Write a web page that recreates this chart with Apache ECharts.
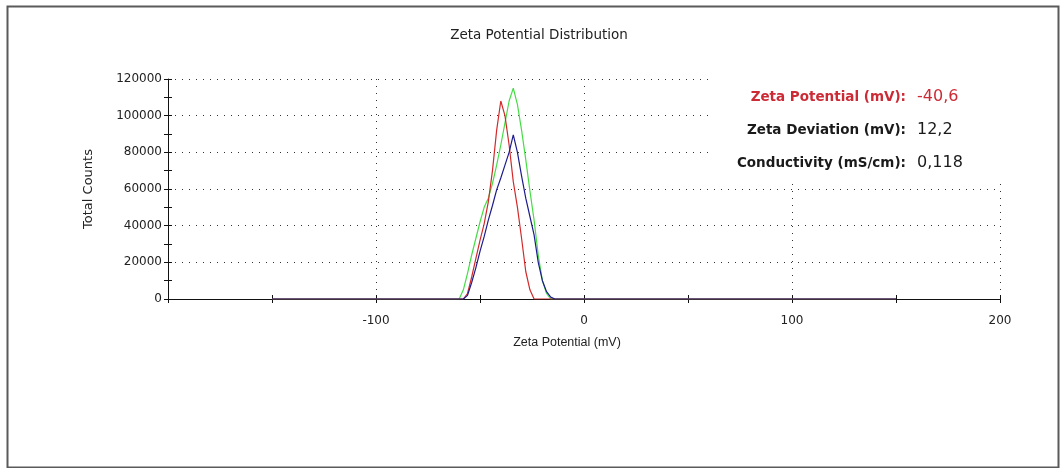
<!DOCTYPE html>
<html>
<head>
<meta charset="utf-8">
<script src="https://cdn.jsdelivr.net/npm/echarts@6/dist/echarts.min.js"></script>
<style>
  html, body { margin: 0; padding: 0; background: #fff; }
  #chart { width: 1063px; height: 468px; }
</style>
</head>
<body>
<div id="chart"></div>
<script>
// Zeta potential axis (mV) shared by all three runs
const zetaMv = [-150, -62, -60, -58, -56, -54, -52, -50, -48, -46, -44, -42, -40, -38,
                -36, -34, -32, -30, -28, -26, -24, -22, -20, -18, -16, -14, -12, 150];

// Total counts per run
const run1Counts = [0, 0, 0, 5000, 14000, 24000, 33000, 42000, 50000, 55000, 63000, 73000, 84000, 96000,
                    108000, 115000, 106000, 92000, 76000, 59000, 43000, 24000, 10000, 3000, 0, 0, 0, 0];
const run2Counts = [0, 0, 0, 0, 3000, 12000, 22000, 32000, 41000, 53000, 70000, 92000, 108000, 100000,
                    84000, 64000, 50000, 33000, 15000, 5000, 0, 0, 0, 0, 0, 0, 0, 0];
const run3Counts = [0, 0, 0, 0, 2000, 9000, 17000, 26000, 34000, 43000, 51000, 59500, 66000, 73000,
                    80000, 89500, 80000, 67000, 55000, 45000, 35000, 20000, 10000, 4000, 1000, 0, 0, 0];

const runColors = ['#47dc47', '#d22a2a', '#1c1c8c'];

// Result summary shown in the upper right
const summaryLabels = ['Zeta Potential (mV):', 'Zeta Deviation (mV):', 'Conductivity (mS/cm):'];
const summaryValues = ['-40,6', '12,2', '0,118'];

const xTicks = { min: -200, max: 200, interval: 100 };
const yTicks = { min: 0, max: 120000, interval: 20000 };

const SANS = '"DejaVu Sans", "Liberation Sans", Arial, sans-serif';
const ARIAL = '"Liberation Sans", Arial, sans-serif';

function pairs(ys) { return zetaMv.map((x, i) => [x, ys[i]]); }

const chart = echarts.init(document.getElementById('chart'), null, { renderer: 'canvas' });

const dotted = { color: '#333', width: 1, type: [1, 6] };
const tickStyle = { color: '#111', width: 1 };

const graphics = [];
// White panel behind the result summary
graphics.push({
  type: 'rect', left: 710, top: 70, z: 50,
  shape: { width: 300, height: 112 },
  style: { fill: '#fff' }
});
summaryLabels.forEach((t, i) => {
  const color = i === 0 ? '#cc2b36' : '#1a1a1a';
  graphics.push({
    type: 'text', z: 51, x: 906, y: 97 + i * 33,
    style: { text: t, font: 'bold 13.5px ' + SANS, fill: color, align: 'right', verticalAlign: 'middle' }
  });
  graphics.push({
    type: 'text', z: 51, x: 917, y: 97 + i * 33,
    style: { text: summaryValues[i], font: '16px ' + SANS, fill: color, align: 'left', verticalAlign: 'middle' }
  });
});
// Outer frame
graphics.push({
  type: 'rect', left: 5, top: 4, z: 0, silent: true,
  shape: { width: 1051, height: 461 },
  style: { fill: 'none', stroke: '#5a5a5a', lineWidth: 2 }
});

const option = {
  animation: false,
  backgroundColor: '#fff',
  title: {
    text: 'Zeta Potential Distribution',
    left: 534, top: 23, textAlign: 'center',
    textStyle: { fontFamily: SANS, fontSize: 13.5, fontWeight: 'normal', color: '#222' }
  },
  grid: { left: 168, right: 63, top: 79, bottom: 169, containLabel: false },
  xAxis: [
    {
      type: 'value', position: 'bottom', min: xTicks.min, max: xTicks.max, interval: xTicks.interval,
      name: 'Zeta Potential (mV)', nameLocation: 'middle', nameGap: 37,
      nameTextStyle: { fontFamily: ARIAL, fontSize: 12.5, color: '#222', padding: [0, 34, 0, 0] },
      axisLine: { onZero: false, lineStyle: { color: '#111', width: 1 } },
      axisTick: { show: true, length: 4, lineStyle: tickStyle },
      minorTick: { show: true, splitNumber: 2, length: 4, lineStyle: tickStyle },
      axisLabel: {
        margin: 16, fontFamily: SANS, fontSize: 12, color: '#222',
        formatter: v => (v === xTicks.min ? '' : String(v))
      },
      splitLine: { show: true, lineStyle: dotted }
    },
    {
      type: 'value', position: 'bottom', min: xTicks.min, max: xTicks.max, interval: xTicks.interval,
      axisLine: { show: false, onZero: false },
      axisTick: { show: true, inside: true, length: 4, lineStyle: tickStyle },
      minorTick: { show: true, splitNumber: 2, length: 4, lineStyle: tickStyle },
      axisLabel: { show: false }, splitLine: { show: false }
    }
  ],
  yAxis: [
    {
      type: 'value', position: 'left', min: yTicks.min, max: yTicks.max, interval: yTicks.interval,
      name: 'Total Counts', nameLocation: 'middle', nameGap: 73, nameRotate: 90,
      nameTextStyle: { fontFamily: SANS, fontSize: 13, color: '#222' },
      axisLine: { onZero: false, lineStyle: { color: '#111', width: 1 } },
      axisTick: { show: true, length: 4, lineStyle: tickStyle },
      minorTick: { show: true, splitNumber: 2, length: 4, lineStyle: tickStyle },
      axisLabel: { margin: 6, fontFamily: SANS, fontSize: 12, color: '#222', formatter: v => String(v) },
      splitLine: { show: true, lineStyle: dotted }
    },
    {
      type: 'value', position: 'left', min: yTicks.min, max: yTicks.max, interval: yTicks.interval,
      axisLine: { show: false, onZero: false },
      axisTick: { show: true, inside: true, length: 4, lineStyle: tickStyle },
      minorTick: { show: true, splitNumber: 2, length: 4, lineStyle: tickStyle },
      axisLabel: { show: false }, splitLine: { show: false }
    }
  ],
  series: [run1Counts, run2Counts, run3Counts].map((ys, i) => ({
    type: 'line', xAxisIndex: 0, yAxisIndex: 0,
    data: pairs(ys), showSymbol: false, symbol: 'none', smooth: false, z: 3 + i,
    lineStyle: { color: runColors[i], width: 1.2 }
  })),
  graphic: graphics
};

chart.setOption(option);
</script>
</body>
</html>
